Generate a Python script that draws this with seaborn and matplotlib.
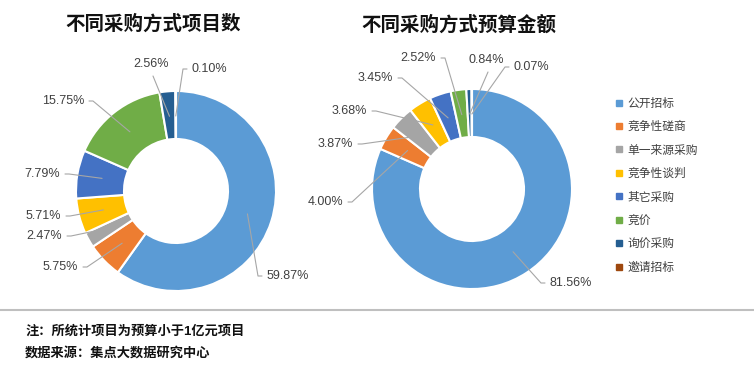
import numpy as np
import pandas as pd
import seaborn as sns
import matplotlib.pyplot as plt
from matplotlib.lines import Line2D

methods = ['公开招标', '竞争性磋商', '单一来源采购', '竞争性谈判', '其它采购', '竞价', '询价采购', '邀请招标']
project_pct = [59.87, 5.75, 2.47, 5.71, 7.79, 15.75, 2.56, 0.10]
budget_pct = [81.56, 4.00, 3.87, 3.68, 3.45, 2.52, 0.84, 0.07]
palette = ['#5B9BD5', '#ED7D31', '#A5A5A5', '#FFC000', '#4472C4', '#70AD47', '#255E91', '#9E480E']

# label layout (radius units): x, y, side the leader line joins
left_layout = [(0.91, -0.85, 'l'), (-0.98, -0.76, 'r'), (-1.14, -0.45, 'r'), (-1.15, -0.25, 'r'),
               (-1.16, 0.17, 'r'), (-0.92, 0.90, 'r'), (-0.25, 1.27, 'b'), (0.16, 1.22, 'l')]
right_layout = [(0.78, -0.94, 'l'), (-1.29, -0.13, 'r'), (-1.19, 0.45, 'r'), (-1.05, 0.78, 'r'),
                (-0.79, 1.11, 'r'), (-0.36, 1.31, 'r'), (0.14, 1.29, 'b'), (0.42, 1.22, 'l')]

sns.set_theme(style='white')
plt.rcParams['font.family'] = ['Liberation Sans', 'Noto Sans CJK SC']

fig = plt.figure(figsize=(7.54, 3.75), dpi=100)
W, H = 754, 375
line_col = '#A6A6A6'
txt_col = '#404040'


def donut(cx, cy, vals, layout, title, tx, ty):
    # axes 320px square, radius 1 -> 100px
    ax = fig.add_axes([(cx - 160) / W, (H - cy - 160) / H, 320 / W, 320 / H])
    ax.pie(vals, colors=palette, startangle=90, counterclock=False, radius=1,
           wedgeprops=dict(width=0.48, edgecolor='white', linewidth=1.5))
    ax.set_xlim(-1.6, 1.6)
    ax.set_ylim(-1.6, 1.6)
    ax.set_aspect('equal')
    ax.axis('off')
    total = sum(vals)
    cum = np.cumsum(vals)
    for v, c, (lx, ly, side) in zip(vals, cum, layout):
        ang = np.deg2rad(360 * (c - v / 2) / total)
        axp, ayp = 0.75 * np.sin(ang), 0.75 * np.cos(ang)
        lab = f'{v:.2f}%'
        if side == 'l':
            ax.text(lx, ly, lab, ha='left', va='center', fontsize=9, color=txt_col)
            xs, ys = [lx - 0.05, lx - 0.09, axp], [ly, ly, ayp]
        elif side == 'r':
            ax.text(lx, ly, lab, ha='right', va='center', fontsize=9, color=txt_col)
            xs, ys = [lx + 0.05, lx + 0.09, axp], [ly, ly, ayp]
        else:
            ax.text(lx, ly, lab, ha='center', va='center', fontsize=9, color=txt_col)
            xs, ys = [lx + 0.02, axp], [ly - 0.12, ayp]
        ax.plot(xs, ys, color=line_col, lw=0.8, zorder=5)
    fig.text(tx / W, 1 - ty / H, title, ha='center', va='center', fontsize=14,
             fontweight='bold', color='#111111')
    return ax


donut(176, 191, project_pct, left_layout, '不同采购方式项目数', 153, 24)
donut(472, 189, budget_pct, right_layout, '不同采购方式预算金额', 459, 25)

handles = [Line2D([], [], marker='s', ls='none', color=c, markersize=4.5) for c in palette]
fig.legend(handles, methods, loc='upper left', bbox_to_anchor=(610 / W, 1 - 93 / H),
           frameon=False, fontsize=8.5, labelcolor=txt_col, labelspacing=0.97,
           handletextpad=0.25, handlelength=0.8, borderaxespad=0)

fig.add_artist(Line2D([0, 1], [1 - 310 / H, 1 - 310 / H], color='#BFBFBF', lw=1.5))
fig.text(25 / W, 1 - 331 / H, '注：所统计项目为预算小于1亿元项目', ha='left', va='center',
         fontsize=9.5, fontweight='bold', color='#111111')
fig.text(25 / W, 1 - 353 / H, '数据来源：集点大数据研究中心', ha='left', va='center',
         fontsize=9.5, fontweight='bold', color='#111111')

fig.savefig('out.png', dpi=100)
